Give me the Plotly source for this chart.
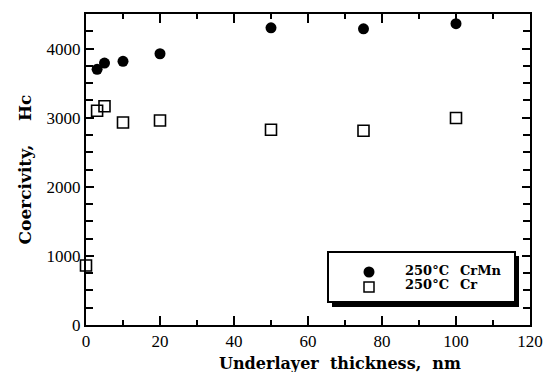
import plotly.graph_objects as go

# Data
x_crmn = [3, 5, 10, 20, 50, 75, 100]
y_crmn = [3700, 3790, 3815, 3925, 4300, 4285, 4360]
x_cr = [0, 3, 5, 10, 20, 50, 75, 100]
y_cr = [860, 3100, 3165, 2930, 2960, 2825, 2810, 2995]
legend_labels = ["250°C  CrMn", "250°C  Cr"]
x_title = "Underlayer  thickness,  nm"
y_title = "Coercivity,    Hc"

W, H = 543, 372
ml, mr, mt, mb = 86, 13, 14, 47
pw, ph = W - ml - mr, H - mt - mb

def px(x):
    return (x - ml) / pw

def py(y):
    return (H - mb - y) / ph

fig = go.Figure()
fig.add_trace(go.Scatter(x=x_crmn, y=y_crmn, mode="markers", name=legend_labels[0],
                         marker=dict(symbol="circle", size=11, color="black", line=dict(width=0)),
                         cliponaxis=False))
fig.add_trace(go.Scatter(x=x_cr, y=y_cr, mode="markers", name=legend_labels[1],
                         marker=dict(symbol="square-open", size=11, color="black", line=dict(width=1.6)),
                         cliponaxis=False))

tickfont = dict(family="Liberation Serif", size=17, color="black")
axis_common = dict(showline=True, linecolor="black", linewidth=2, mirror="allticks",
                   ticks="inside", tickcolor="black", tickwidth=1.5, showgrid=False,
                   zeroline=False, tickfont=tickfont, automargin=False)

fig.update_xaxes(range=[0, 120], tickvals=[0, 20, 40, 60, 80, 100, 120], ticklen=9,
                 minor=dict(dtick=10, tick0=0, ticks="inside", ticklen=5, tickcolor="black", tickwidth=1.5),
                 **axis_common)
fig.update_yaxes(range=[0, 4500], tickvals=[0, 1000, 2000, 3000, 4000], ticklen=8,
                 minor=dict(dtick=250, tick0=0, ticks="inside", ticklen=7, tickcolor="black", tickwidth=1.5),
                 title=dict(text=y_title, standoff=11,
                            font=dict(family="DejaVu Serif", size=17, color="black", weight="bold")),
                 **axis_common)

# Legend box with drop shadow
bx0, bx1, by0, by1 = 328, 515, 252, 302
shapes = [
    dict(type="rect", xref="paper", yref="paper", x0=px(bx0 + 4), x1=px(bx1 + 4), y0=py(by1 + 5), y1=py(by0 + 4),
         fillcolor="black", line=dict(width=0), layer="above"),
    dict(type="rect", xref="paper", yref="paper", x0=px(bx0), x1=px(bx1), y0=py(by1), y1=py(by0),
         fillcolor="white", line=dict(color="black", width=2), layer="above"),
    dict(type="circle", xref="paper", yref="paper", x0=px(363.5), x1=px(374.5), y0=py(277.5), y1=py(266.5),
         fillcolor="black", line=dict(width=0), layer="above"),
    dict(type="rect", xref="paper", yref="paper", x0=px(364), x1=px(374), y0=py(292), y1=py(282),
         fillcolor="white", line=dict(color="black", width=1.5), layer="above"),
]
ann = []
lf = dict(family="DejaVu Serif", size=13, color="black", weight="bold")
for label, yc in zip(legend_labels, [270, 284]):
    a, b = label.split("  ")
    ann.append(dict(xref="paper", yref="paper", x=px(403), y=py(yc), text=a, showarrow=False,
                    xanchor="left", yanchor="middle", font=lf))
    ann.append(dict(xref="paper", yref="paper", x=px(458), y=py(yc), text=b, showarrow=False,
                    xanchor="left", yanchor="middle", font=lf))
ann.append(dict(xref="paper", yref="paper", x=px(340), y=py(363), text=x_title, showarrow=False,
                xanchor="center", yanchor="middle",
                font=dict(family="DejaVu Serif", size=16, color="black", weight="bold")))

fig.update_layout(width=W, height=H, margin=dict(l=ml, r=mr, t=mt, b=mb),
                  plot_bgcolor="white", paper_bgcolor="white", showlegend=False,
                  shapes=shapes, annotations=ann)

fig.write_html("out.html")
